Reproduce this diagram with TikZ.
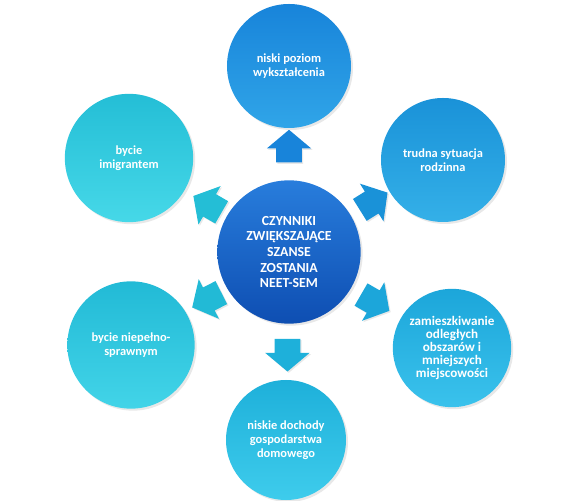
\documentclass[tikz,border=0pt]{standalone}
\usepackage{fontspec}
\setmainfont{Carlito}
\usepackage{xcolor}
\usepackage{tikz}
\usetikzlibrary{shapes,arrows,positioning,calc,shadows}
\definecolor{ctrtop}{RGB}{40, 125, 220}
\definecolor{ctrbot}{RGB}{14, 78, 178}
\definecolor{blueA}{RGB}{24, 132, 218}
\definecolor{blueAl}{RGB}{48, 165, 232}
\definecolor{blueB}{RGB}{26, 146, 216}
\definecolor{blueBl}{RGB}{52, 176, 232}
\definecolor{blueC}{RGB}{28, 166, 218}
\definecolor{blueCl}{RGB}{58, 194, 236}
\definecolor{cyanD}{RGB}{30, 176, 218}
\definecolor{cyanDl}{RGB}{62, 204, 236}
\definecolor{cyanE}{RGB}{34, 186, 214}
\definecolor{cyanEl}{RGB}{66, 212, 232}
\definecolor{cyanF}{RGB}{36, 190, 214}
\definecolor{cyanFl}{RGB}{70, 216, 232}

\begin{document}
\begin{tikzpicture}[x=0.03cm, y=0.03cm,
        factor/.style={circle, minimum size=3.72cm, inner sep=0pt, align=center, text=white,
            font=\bfseries\fontsize{10.6}{12}\selectfont,
            drop shadow={opacity=0.18, shadow xshift=0.6mm, shadow yshift=-0.6mm}},
        pointer/.style={single arrow, minimum height=0.98cm, inner xsep=0pt, inner ysep=0.38cm,
            single arrow head extend=0.28cm, single arrow tip angle=100,
            drop shadow={opacity=0.18, shadow xshift=0.4mm, shadow yshift=-0.4mm}}]
        \useasboundingbox (0, 0) rectangle (578, 501);

        % Center circle
        \node[factor, minimum size=4.3cm, top color=ctrtop, bottom color=ctrbot,
            font=\bfseries\fontsize{11.8}{13.3}\selectfont] (ctr) at (289, 249)
            {CZYNNIKI\\ZWIĘKSZAJĄCE\\SZANSE\\ZOSTANIA\\NEET-SEM};

        % Outer circles
        \node[factor, top color=blueA, bottom color=blueAl] (edu) at (289, 435)
            {niski poziom\\wykształcenia};
        \node[factor, top color=blueB, bottom color=blueBl] (fam) at (443, 341)
            {trudna sytuacja\\rodzinna};
        \node[factor, minimum size=3.55cm, top color=blueC, bottom color=blueCl,
            font=\bfseries\fontsize{11.2}{11}\selectfont] (rur) at (452, 153)
            {zamieszkiwanie\\odległych\\obszarów i\\mniejszych\\miejscowości};
        \node[factor, minimum size=3.6cm, top color=cyanD, bottom color=cyanDl] (inc) at (286, 61)
            {niskie dochody\\gospodarstwa\\domowego};
        \node[factor, minimum size=3.82cm, top color=cyanE, bottom color=cyanEl] (dis) at (131, 156)
            {bycie niepełno-\\sprawnym};
        \node[factor, minimum size=3.85cm, top color=cyanF, bottom color=cyanFl] (imm) at (129, 343)
            {bycie\\imigrantem};

        % Block arrows
        \node[pointer, rotate=90, fill=blueA] (aedu) at ($(ctr)!0.54!(edu)$) {};
        \node[pointer, rotate=32, fill=blueB] (afam) at ($(ctr)!0.52!(fam)$) {};
        \node[pointer, rotate=-30, fill=blueC] (arur) at ($(ctr)!0.5!(rur)$) {};
        \node[pointer, rotate=-90, fill=cyanD] (ainc) at ($(ctr)!0.52!(inc)$) {};
        \node[pointer, rotate=207, fill=cyanE] (adis) at ($(ctr)!0.49!(dis)$) {};
        \node[pointer, rotate=150, fill=cyanF] (aimm) at ($(ctr)!0.48!(imm)$) {};
    \end{tikzpicture}
\end{document}
